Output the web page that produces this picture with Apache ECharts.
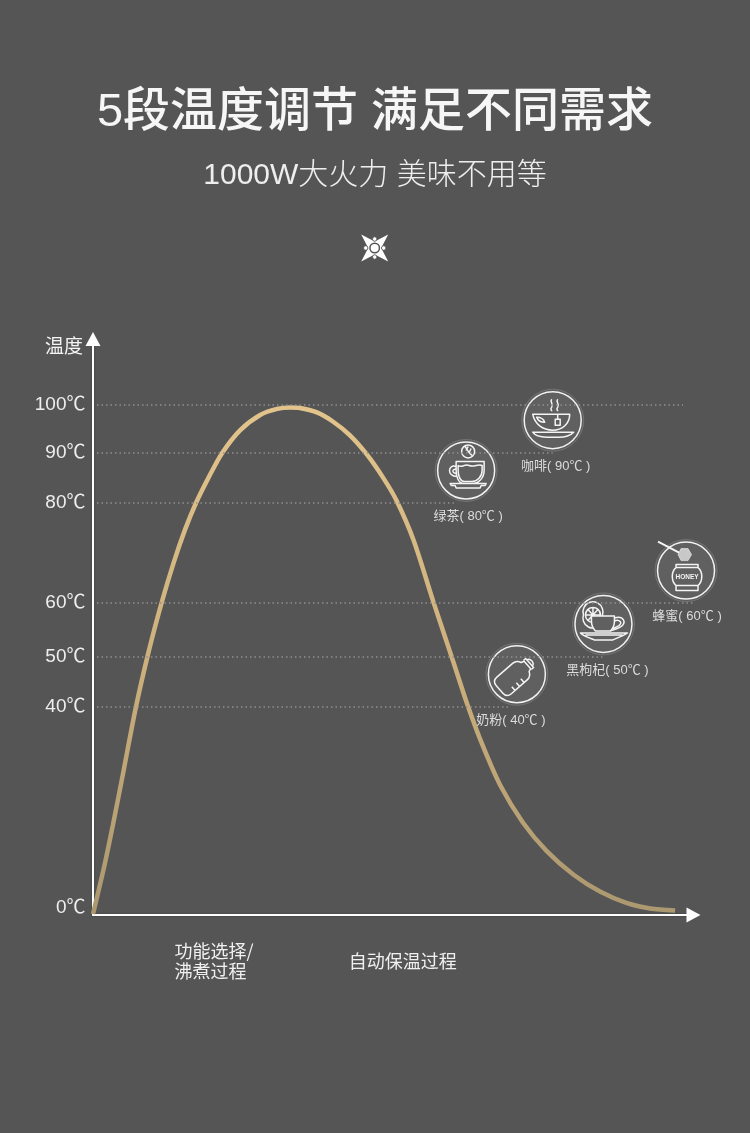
<!DOCTYPE html>
<html><head><meta charset="utf-8">
<style>html,body{margin:0;padding:0;background:#555555}#c{width:750px;height:1133px}</style>
<script src="https://cdn.jsdelivr.net/npm/echarts@6/dist/echarts.min.js"></script>
</head><body><div id="c"></div>
<script>
const FONT = '"Liberation Sans","Noto Sans CJK SC",sans-serif';
const CJK = '"Noto Sans CJK SC","Liberation Sans",sans-serif';

// ---- data ----
const mainTitle = '5段温度调节 满足不同需求';
const subTitle = '1000W大火力 美味不用等';
const yName = '温度';
const tempTicks = [0, 40, 50, 60.6, 80.5, 90.5, 100];
const tempLabels = ['0℃', '40℃', '50℃', '60℃', '80℃', '90℃', '100℃'];
const guideEnds = [0, 4.19, 5.13, 6.03, 3.66, 4.62, 5.93]; // where each dotted line stops (x units)
const phaseLines = [1, 2, 3];
const phaseAt = [0.82, 2.57];
const phaseLabels = ['功能选择/\n沸煮过程', '自动保温过程'];

const curveX = [0, 0.12, 0.2, 0.29, 0.43, 0.56, 0.69, 0.81, 0.925, 1.035, 1.16, 1.30, 1.48, 1.68, 1.85, 1.98, 2.08, 2.25, 2.41, 2.58, 2.75, 2.92, 3.05, 3.22, 3.42, 3.62, 3.77, 3.91, 4.09, 4.32, 4.56, 4.83, 5.10, 5.36, 5.60, 5.85];
const curveT = [-1.2, 8.9, 16.5, 25.5, 39.8, 51, 60.7, 68.6, 75.2, 80.5, 85.5, 90.5, 95, 98, 99.2, 99.5, 99.4, 98.5, 96.7, 94, 90.2, 85.4, 81, 73.2, 60.9, 49, 40, 32.6, 24.5, 17, 11.3, 6.6, 3.2, 1, -0.1, -0.5];

const drinkNames = ['咖啡( 90℃ )', '绿茶( 80℃ )', '蜂蜜( 60℃ )', '黑枸杞( 50℃ )', '奶粉( 40℃ )'];
const drinkX = [4.62, 3.75, 5.96, 5.13, 4.26];
const drinkT = [90.5, 80.5, 60.6, 50, 40];
const drinkIcon = ['coffee', 'tea', 'honey', 'goji', 'bottle'];

// ---- styling / layout ----
const BG = '#555555', RING = '#606060';
const labelShift = [3, 2, 1, 4, -6];
const BOX = 'M-40-40h.01M40 40h.01';
const ICONS = {
  coffee: [
    {d:'M-1-21c-2.5 3 2.5 5 0 8c-2 2 0 3 0 4M5-21c-2.5 3 2.5 5 0 8c-2 2 0 3 0 4M5-6v5M2.5-1h5v6h-5zM-20-6H17C17 4 9 10 0 10C-10 10-18 4-20-6ZM-16-3c4 0 7 2 8 5c-4 0-7-2-8-5ZM-20 12H21C18 15 12 17 6 17H-6C-12 17-18 15-20 12Z'}
  ],
  tea: [
    {d:'M-10-9H18V0C18 8 12 13 6 13H-2C-8 13-10 6-10 0ZM-8-5C-4-2-2-7 3-5C8-3 12-7 16-5V0C16 6 11 11 6 11H-2C-6 11-8 5-8 0ZM-10-4C-18-7-20 6-9 6M-10-1C-14-2-15 3-9 3M-16 13H20L19 15H15L14 17.5H-10L-11 15H-15Z'},
    {d:'M8.5-19A6.5 6.5 0 1 1-4.5-19A6.5 6.5 0 1 1 8.5-19ZM-1-24C1-21 3-17 6-15M2-24L0-20M5-22L3-18'}
  ],
  honey: [
    {d:'M-10-6H12V-3C17 1 17 11 12 15V20H-10V15C-15 11-15 1-10-3ZM-10-3H12M-10 15H12'},
    {d:'M-28-29L-7-18', w:2},
    {d:'M5.5-16L2-22H-5L-8-16L-5-10H2Z', fill:'#c8c8c8', w:0.6}
  ],
  goji: [
    {d:'M-1-9A10 10 0 1 1-20-9A10 10 0 1 1-1-9ZM-3-9A7.5 7.5 0 1 1-18-9A7.5 7.5 0 1 1-3-9ZM-10.5-17V-1M-18-9H-3M-16-15L-5-3M-5-15L-16-3'},
    {d:'M-12-8H11V-3C11 2 9 5 7 7H-8C-10 5-12 2-12-3Z', fill:RING},
    {d:'M11-6C20-9 24-1 17 3C14 5 10 6 7 7M11-3C16-5 20-1 15 2L9 5M-23 9H24C20 12 14 14 9 16H-9C-14 14-20 12-23 9ZM-18 11H19'}
  ],
  bottle: [
    {d:'M-11-4Q-11-9-6-11L-5-14H5L6-11Q11-9 11-4V17Q11 23 5 23H-5Q-11 23-11 17ZM-6-14V-17H6V-14M-4-17C-4-21 4-21 4-17M11 0H6M11 6H6M11 12H6', rot:-0.85}
  ]
};

function renderDrink(params, api) {
  const i = api.value(2);
  const p = api.coord([api.value(0), api.value(1)]);
  const kids = [
    {type:'circle', shape:{cx:0,cy:0,r:31}, style:{fill:'#5d5d5d', stroke:'#737373', lineWidth:1}},
    {type:'circle', shape:{cx:0,cy:0,r:28.5}, style:{fill:RING, stroke:'#f2f2f2', lineWidth:1.5}}
  ];
  ICONS[drinkIcon[i]].forEach(part => kids.push({
    type:'path', rotation: part.rot || 0,
    shape:{pathData: BOX + part.d, x:-40, y:-40, width:80, height:80, layout:'cover'},
    style:{fill: part.fill || 'none', stroke:'#f4f4f4', lineWidth: part.w || 1.5, lineJoin:'round'}
  }));
  if (drinkIcon[i] === 'honey') {
    kids.push({type:'text', style:{text:'HONEY', x:1, y:6.5, fill:'#f4f4f4', font:'bold 6.5px "Liberation Sans"', align:'center', verticalAlign:'middle'}});
  }
  kids.push({type:'text', style:{text:drinkNames[i], x:labelShift[i], y:46, fill:'#dcdcdc', font:'13px ' + FONT, align:'center', verticalAlign:'middle'}});
  return {type:'group', x:p[0], y:p[1]-32.5, children:kids};
}

const hGuides = tempTicks.slice(1).map((t, i) => [{coord:[0.04, t]}, {coord:[guideEnds[i+1], t]}]);
const vGuides = phaseLines.map(x => [{coord:[x, -1.4], lineStyle:{color:'#6f6f6f'}}, {coord:[x, 114.3], lineStyle:{color:'#6f6f6f'}}]);

const chart = echarts.init(document.getElementById('c'), null, {renderer:'canvas'});
chart.setOption({
  animation:false,
  backgroundColor:BG,
  textStyle:{fontFamily:FONT},
  title:[
    {text:mainTitle, left:'center', top:85, textStyle:{color:'#f6f6f6', fontSize:47, fontWeight:500, fontFamily:FONT}},
    {text:subTitle, left:'center', top:156, textStyle:{color:'#eeeeee', fontSize:30, fontWeight:300, fontFamily:FONT}}
  ],
  grid:{left:93, right:56.5, top:339, bottom:218},
  xAxis:{
    type:'value', min:0, max:6.035,
    axisLine:{show:true, onZero:false, symbol:['none','triangle'], symbolSize:[15,14], lineStyle:{color:'#fff', width:2, shadowColor:'rgba(0,0,0,.35)', shadowBlur:2}},
    axisTick:{show:false},
    splitLine:{show:false},
    axisLabel:{customValues:phaseAt, formatter:(v)=>phaseLabels[phaseAt.indexOf(v)], color:'#f0f0f0', fontSize:18, lineHeight:20, align:'left', verticalAlign:'middle', margin:46, fontFamily:CJK}
  },
  yAxis:{
    type:'value', min:-1.4, max:113.1,
    name:yName, nameLocation:'end', nameGap:-7,
    nameTextStyle:{color:'#f4f4f4', fontSize:19, align:'right', verticalAlign:'middle', padding:[0,10,0,0], fontFamily:CJK},
    axisLine:{show:true, onZero:false, symbol:['none','triangle'], symbolSize:[15,14], lineStyle:{color:'#fff', width:2, shadowColor:'rgba(0,0,0,.35)', shadowBlur:2}},
    axisTick:{show:false, customValues:tempTicks},
    splitLine:{show:false},
    axisLabel:{customValues:tempTicks, formatter:(v)=>tempLabels[tempTicks.indexOf(v)], fontSize:19, margin:7.5, padding:[4,0,0,0], fontFamily:FONT,
      color:(v)=> v===100 ? '#deb878' : '#eeeeee'}
  },
  series:[
    {type:'line', z:1, data:[], silent:true,
     markLine:{silent:true, symbol:'none', animation:false, label:{show:false},
       lineStyle:{type:[1.5,3], color:'#909090', width:1.5},
       data:hGuides.concat(vGuides)}},
    {type:'line', z:3, clip:false, smooth:0.3, showSymbol:false, silent:true,
     data:curveX.map((x,i)=>[x,curveT[i]]),
     lineStyle:{width:4.5, cap:'butt', color:{type:'linear',x:0,y:0,x2:0,y2:1,colorStops:[{offset:0,color:'#e3c48c'},{offset:0.5,color:'#cdb07c'},{offset:1,color:'#ab9870'}]}}},
    {type:'custom', z:4, silent:true, clip:false, renderItem:renderDrink,
     data:drinkX.map((x,i)=>[x,drinkT[i],i])}
  ],
  graphic:[
    {type:'group', x:374.7, y:248, silent:true, children:[
      {type:'polygon', shape:{points:[[-13.5,-13.5],[0,-6.5],[13.5,-13.5],[6.5,0],[13.5,13.5],[0,6.5],[-13.5,13.5],[-6.5,0]]}, style:{fill:'#ffffff'}},
      {type:'circle', shape:{cx:0,cy:0,r:5.5}, style:{fill:BG}},
      {type:'circle', shape:{cx:0,cy:0,r:4}, style:{fill:'#ffffff'}},
      {type:'circle', shape:{cx:0,cy:-9,r:2.2}, style:{fill:'#ffffff', stroke:BG, lineWidth:0.8}},
      {type:'circle', shape:{cx:0,cy:9,r:2.2}, style:{fill:'#ffffff', stroke:BG, lineWidth:0.8}},
      {type:'circle', shape:{cx:-9,cy:0,r:2.2}, style:{fill:'#ffffff', stroke:BG, lineWidth:0.8}},
      {type:'circle', shape:{cx:9,cy:0,r:2.2}, style:{fill:'#ffffff', stroke:BG, lineWidth:0.8}}
    ]}
  ]
});
</script></body></html>
